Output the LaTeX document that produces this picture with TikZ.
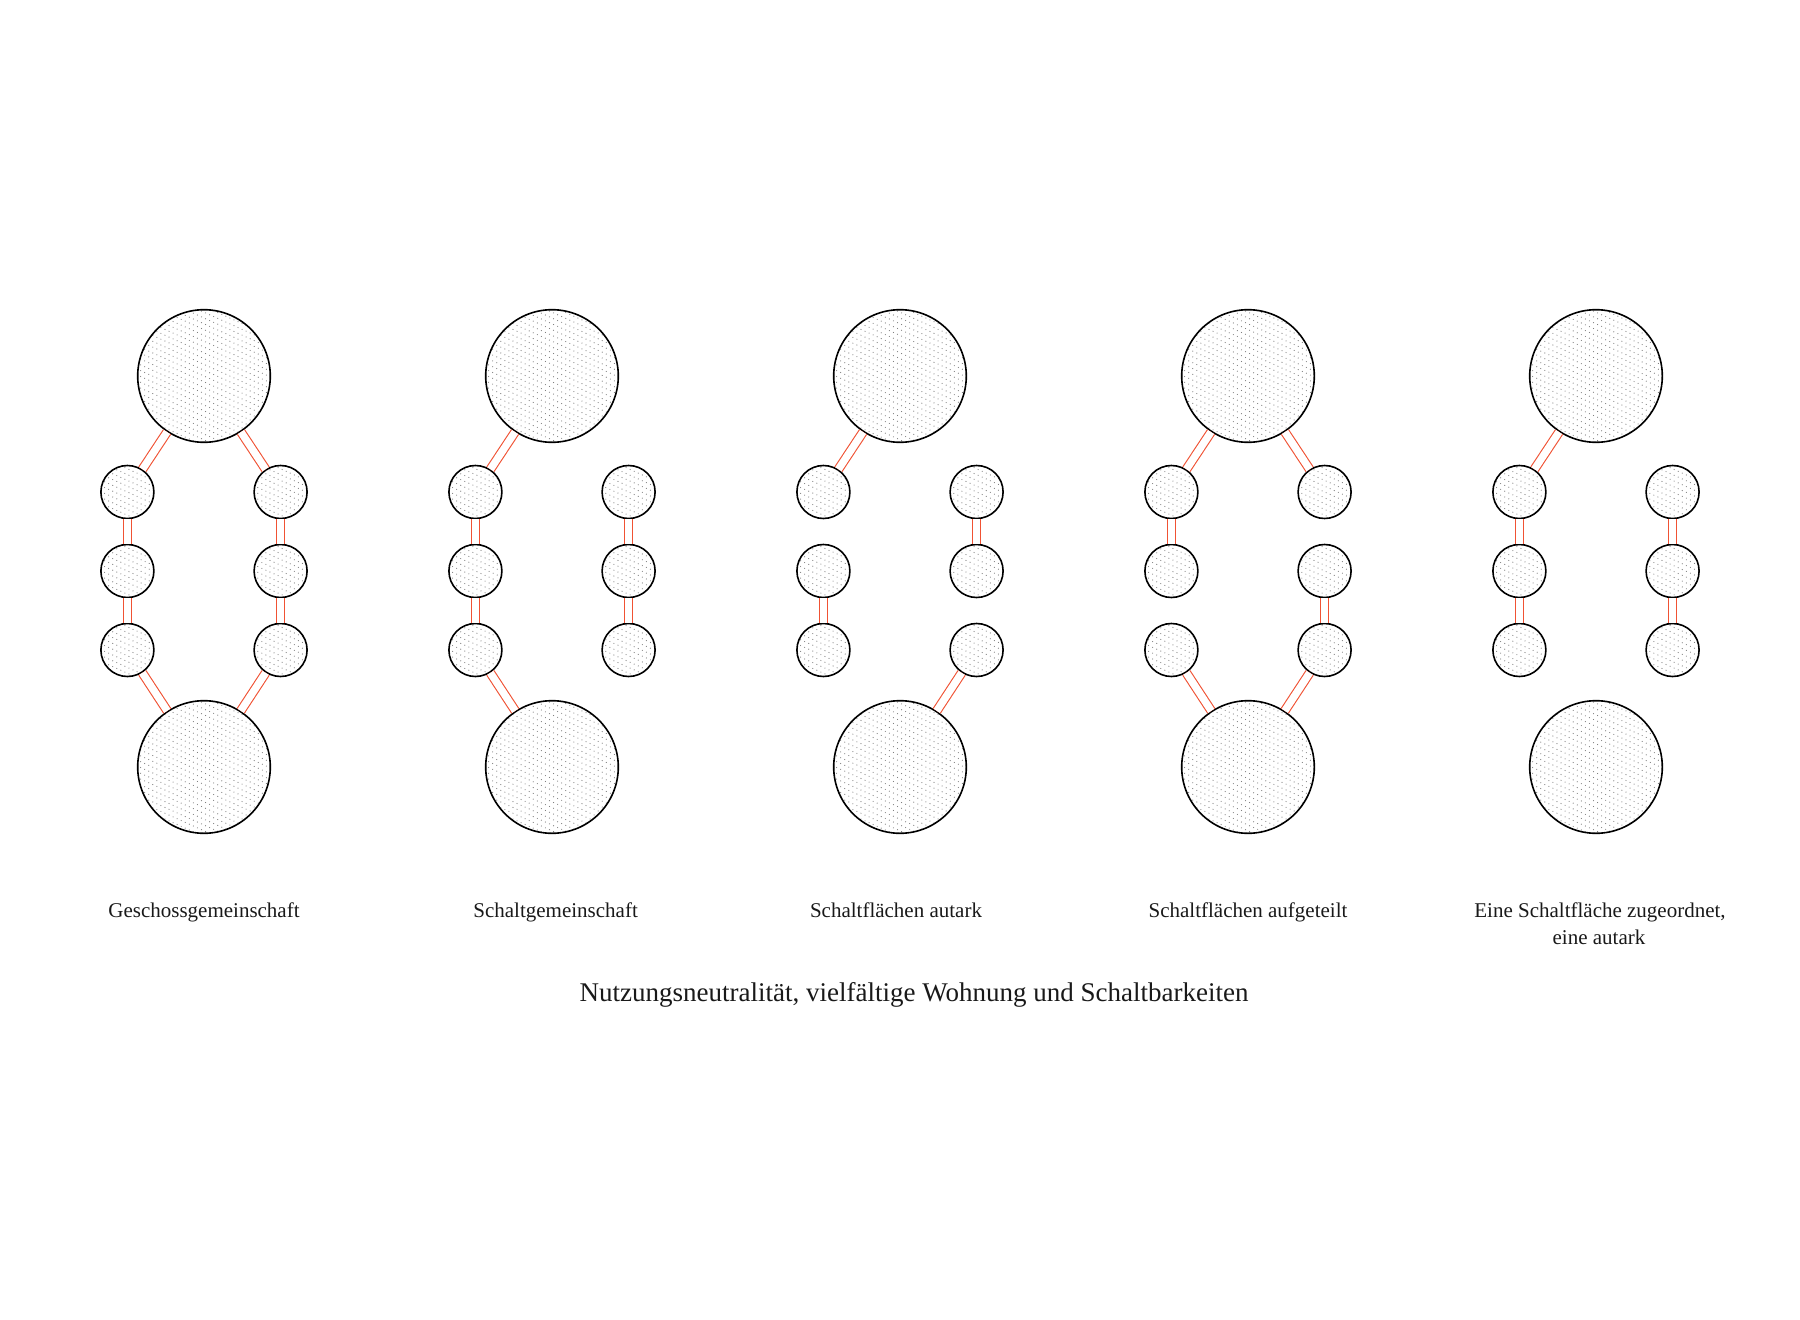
\documentclass[tikz,border=0pt]{standalone}
\usepackage{fontspec}
\setmainfont{Liberation Serif}
\usetikzlibrary{calc}
\definecolor{linkred}{RGB}{240,82,52}
\tikzset{
  circ/.style={circle, draw=black, line width=1.6, inner sep=0pt, minimum size=#1},
  hatch/.style={draw=black!50, line width=0.85, dash pattern=on 0.85 off 3.6},
  conn/.style={draw=linkred, line width=1.1, double=white, double distance=7.4},
  lbl/.style={font=\fontsize{21}{26}\selectfont, anchor=base, text=black!90},
  ttl/.style={font=\fontsize{27}{32}\selectfont, anchor=base, text=black!90},
}
\newcommand\hatchdisc[3]{%
  \begin{scope}
    \clip (#1,#2) circle (#3);
    \foreach \k in {-20,...,20}
      \draw[hatch] (#1-80,#2+\k*5.8-36) -- ++(160,72);
  \end{scope}}
\begin{document}
\begin{tikzpicture}[x=1pt,y=-1pt]
\useasboundingbox (0,0) rectangle (1800,1320);
\foreach \d/\cx in {1/204,2/552,3/900,4/1248,5/1596}{
  \hatchdisc{\cx}{376}{66.3}
  \hatchdisc{\cx}{767}{66.3}
  \node[circ=132.6] (d\d-t) at (\cx,376) {};
  \node[circ=132.6] (d\d-b) at (\cx,767) {};
  \foreach \i/\y in {1/492,2/571,3/650}{
    \hatchdisc{\cx-76.6}{\y}{26.5}
    \hatchdisc{\cx+76.6}{\y}{26.5}
    \node[circ=53] (d\d-l\i) at (\cx-76.6,\y) {};
    \node[circ=53] (d\d-r\i) at (\cx+76.6,\y) {};
  }
}
\foreach \a/\b in {
  d1-t/d1-l1, d1-t/d1-r1, d1-l1/d1-l2, d1-l2/d1-l3, d1-r1/d1-r2, d1-r2/d1-r3, d1-l3/d1-b, d1-r3/d1-b,
  d2-t/d2-l1, d2-l1/d2-l2, d2-l2/d2-l3, d2-l3/d2-b, d2-r1/d2-r2, d2-r2/d2-r3,
  d3-t/d3-l1, d3-l2/d3-l3, d3-r1/d3-r2, d3-r3/d3-b,
  d4-t/d4-l1, d4-t/d4-r1, d4-l1/d4-l2, d4-r2/d4-r3, d4-l3/d4-b, d4-r3/d4-b,
  d5-t/d5-l1, d5-l1/d5-l2, d5-l2/d5-l3, d5-r1/d5-r2, d5-r2/d5-r3}
  \draw[conn] (\a) -- (\b);
\node[lbl] (lab1) at (204,917) {Geschossgemeinschaft};
\node[lbl] (lab2) at (555.6,917) {Schaltgemeinschaft};
\node[lbl] (lab3) at (896,917) {Schaltflächen autark};
\node[lbl] (lab4) at (1248,917) {Schaltflächen aufgeteilt};
\node[lbl] (lab5a) at (1600,917) {Eine Schaltfläche zugeordnet,};
\node[lbl] (lab5b) at (1599,944) {eine autark};
\node[ttl] (title) at (914,1001) {Nutzungsneutralität, vielfältige Wohnung und Schaltbarkeiten};
\end{tikzpicture}
\end{document}
